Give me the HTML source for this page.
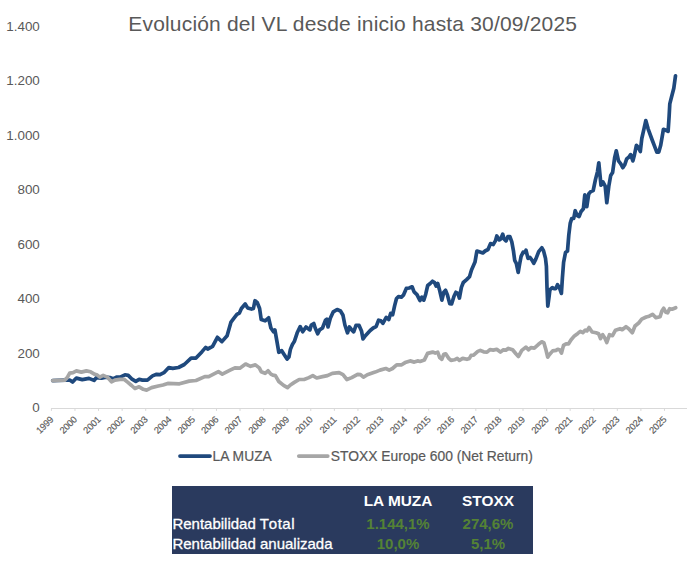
<!DOCTYPE html>
<html><head><meta charset="utf-8"><title>Evolución del VL</title>
<style>
html,body{margin:0;padding:0;background:#fff;}
body{width:694px;height:565px;position:relative;overflow:hidden;font-family:"Liberation Sans",sans-serif;}
svg{position:absolute;left:0;top:0;}
svg text{font-family:"Liberation Sans",sans-serif;fill:#595959;}
.title{position:absolute;left:0;top:11.3px;width:705.4px;text-align:center;font-size:21px;letter-spacing:0.18px;line-height:25px;color:#595959;white-space:nowrap;}
.tbl{position:absolute;left:172px;top:486px;width:361px;height:67.8px;background:#2a3a5e;color:#fff;font-size:15px;}
.tbl div{position:absolute;white-space:nowrap;line-height:20px;}
.c{text-align:center;font-weight:bold;width:100px;}
.g{color:#548235;}
.h{font-size:15.4px;}
.r{-webkit-text-stroke:0.3px #fff;}
</style></head><body>
<div class="title">Evolución del VL desde inicio hasta 30/09/2025</div>
<svg width="694" height="565" viewBox="0 0 694 565">
<g stroke="#d9d9d9" stroke-width="1" fill="none"><line x1="51" y1="408.5" x2="687" y2="408.5"/><line x1="51.40" y1="408.5" x2="51.40" y2="410.9"/><line x1="74.98" y1="408.5" x2="74.98" y2="410.9"/><line x1="98.56" y1="408.5" x2="98.56" y2="410.9"/><line x1="122.14" y1="408.5" x2="122.14" y2="410.9"/><line x1="145.72" y1="408.5" x2="145.72" y2="410.9"/><line x1="169.30" y1="408.5" x2="169.30" y2="410.9"/><line x1="192.88" y1="408.5" x2="192.88" y2="410.9"/><line x1="216.46" y1="408.5" x2="216.46" y2="410.9"/><line x1="240.04" y1="408.5" x2="240.04" y2="410.9"/><line x1="263.62" y1="408.5" x2="263.62" y2="410.9"/><line x1="287.20" y1="408.5" x2="287.20" y2="410.9"/><line x1="310.78" y1="408.5" x2="310.78" y2="410.9"/><line x1="334.36" y1="408.5" x2="334.36" y2="410.9"/><line x1="357.94" y1="408.5" x2="357.94" y2="410.9"/><line x1="381.52" y1="408.5" x2="381.52" y2="410.9"/><line x1="405.10" y1="408.5" x2="405.10" y2="410.9"/><line x1="428.68" y1="408.5" x2="428.68" y2="410.9"/><line x1="452.26" y1="408.5" x2="452.26" y2="410.9"/><line x1="475.84" y1="408.5" x2="475.84" y2="410.9"/><line x1="499.42" y1="408.5" x2="499.42" y2="410.9"/><line x1="523.00" y1="408.5" x2="523.00" y2="410.9"/><line x1="546.58" y1="408.5" x2="546.58" y2="410.9"/><line x1="570.16" y1="408.5" x2="570.16" y2="410.9"/><line x1="593.74" y1="408.5" x2="593.74" y2="410.9"/><line x1="617.32" y1="408.5" x2="617.32" y2="410.9"/><line x1="640.90" y1="408.5" x2="640.90" y2="410.9"/><line x1="664.48" y1="408.5" x2="664.48" y2="410.9"/></g>
<g font-size="13.4"><text x="39.8" y="412.30" text-anchor="end">0</text><text x="39.8" y="357.83" text-anchor="end">200</text><text x="39.8" y="303.36" text-anchor="end">400</text><text x="39.8" y="248.89" text-anchor="end">600</text><text x="39.8" y="194.42" text-anchor="end">800</text><text x="39.8" y="139.95" text-anchor="end">1.000</text><text x="39.8" y="85.48" text-anchor="end">1.200</text><text x="39.8" y="31.01" text-anchor="end">1.400</text></g>
<g font-size="9.4" letter-spacing="-0.25" stroke="#595959" stroke-width="0.15"><text transform="translate(54.00,420.2) rotate(-45)" text-anchor="end" dominant-baseline="auto">1999</text><text transform="translate(77.58,420.2) rotate(-45)" text-anchor="end" dominant-baseline="auto">2000</text><text transform="translate(101.16,420.2) rotate(-45)" text-anchor="end" dominant-baseline="auto">2001</text><text transform="translate(124.74,420.2) rotate(-45)" text-anchor="end" dominant-baseline="auto">2002</text><text transform="translate(148.32,420.2) rotate(-45)" text-anchor="end" dominant-baseline="auto">2003</text><text transform="translate(171.90,420.2) rotate(-45)" text-anchor="end" dominant-baseline="auto">2004</text><text transform="translate(195.48,420.2) rotate(-45)" text-anchor="end" dominant-baseline="auto">2005</text><text transform="translate(219.06,420.2) rotate(-45)" text-anchor="end" dominant-baseline="auto">2006</text><text transform="translate(242.64,420.2) rotate(-45)" text-anchor="end" dominant-baseline="auto">2007</text><text transform="translate(266.22,420.2) rotate(-45)" text-anchor="end" dominant-baseline="auto">2008</text><text transform="translate(289.80,420.2) rotate(-45)" text-anchor="end" dominant-baseline="auto">2009</text><text transform="translate(313.38,420.2) rotate(-45)" text-anchor="end" dominant-baseline="auto">2010</text><text transform="translate(336.96,420.2) rotate(-45)" text-anchor="end" dominant-baseline="auto">2011</text><text transform="translate(360.54,420.2) rotate(-45)" text-anchor="end" dominant-baseline="auto">2012</text><text transform="translate(384.12,420.2) rotate(-45)" text-anchor="end" dominant-baseline="auto">2013</text><text transform="translate(407.70,420.2) rotate(-45)" text-anchor="end" dominant-baseline="auto">2014</text><text transform="translate(431.28,420.2) rotate(-45)" text-anchor="end" dominant-baseline="auto">2015</text><text transform="translate(454.86,420.2) rotate(-45)" text-anchor="end" dominant-baseline="auto">2016</text><text transform="translate(478.44,420.2) rotate(-45)" text-anchor="end" dominant-baseline="auto">2017</text><text transform="translate(502.02,420.2) rotate(-45)" text-anchor="end" dominant-baseline="auto">2018</text><text transform="translate(525.60,420.2) rotate(-45)" text-anchor="end" dominant-baseline="auto">2019</text><text transform="translate(549.18,420.2) rotate(-45)" text-anchor="end" dominant-baseline="auto">2020</text><text transform="translate(572.76,420.2) rotate(-45)" text-anchor="end" dominant-baseline="auto">2021</text><text transform="translate(596.34,420.2) rotate(-45)" text-anchor="end" dominant-baseline="auto">2022</text><text transform="translate(619.92,420.2) rotate(-45)" text-anchor="end" dominant-baseline="auto">2023</text><text transform="translate(643.50,420.2) rotate(-45)" text-anchor="end" dominant-baseline="auto">2024</text><text transform="translate(667.08,420.2) rotate(-45)" text-anchor="end" dominant-baseline="auto">2025</text></g>
<polyline points="52.7,380.6 58.0,380.4 66.4,380.1 69.7,380.1 72.6,382.1 76.4,378.1 82.3,379.6 89.0,378.4 94.0,380.4 96.5,377.6 101.5,378.1 105.7,377.1 109.8,377.6 113.2,378.8 116.5,377.1 120.7,376.8 124.9,374.8 128.2,375.4 131.6,378.8 135.8,381.3 139.1,379.3 142.4,380.1 147.4,380.1 152.5,375.9 156.6,374.3 160.0,374.7 163.9,372.7 168.8,367.5 172.7,368.4 178.5,367.5 184.3,364.5 191.1,358.1 196.0,358.1 201.8,351.9 205.7,347.4 207.7,349.0 212.6,346.4 217.4,337.3 221.9,341.6 227.1,335.7 231.0,322.1 234.0,318.2 236.9,314.3 239.4,313.0 241.4,308.5 245.2,304.0 247.6,307.9 251.5,309.1 253.4,308.5 255.0,300.7 257.3,302.7 259.6,308.5 261.2,319.6 265.1,320.8 268.6,317.8 270.9,328.0 273.5,331.8 274.9,329.9 276.8,340.6 278.8,352.3 281.7,350.7 284.6,355.2 287.1,359.1 288.9,357.1 290.4,349.4 292.4,344.5 294.3,341.6 297.2,332.8 300.2,326.6 302.7,331.8 306.0,327.0 309.9,329.9 311.3,325.0 313.8,323.5 315.2,328.0 317.7,333.8 319.6,329.9 322.5,328.0 325.5,320.2 326.8,319.2 328.0,327.0 330.3,318.2 333.3,311.8 337.1,309.5 340.5,311.0 343.0,315.3 344.9,325.0 347.5,332.8 349.4,327.0 351.7,329.9 353.7,331.8 356.0,325.4 359.1,325.4 361.5,330.9 363.0,339.0 365.4,335.7 370.2,330.5 373.2,328.0 376.1,326.6 378.6,320.2 380.9,320.8 382.9,323.3 386.2,317.4 388.8,319.5 390.7,313.3 392.7,314.7 394.6,305.9 396.5,298.5 398.5,296.6 401.4,297.1 403.4,295.2 406.3,288.4 409.2,288.0 412.1,286.8 414.1,291.9 417.0,294.6 419.9,300.5 421.8,297.1 423.8,300.1 425.7,294.2 427.7,285.5 430.2,283.5 432.5,281.2 434.5,282.5 436.1,286.1 437.8,283.5 439.4,289.4 441.9,300.1 443.8,292.3 445.6,290.3 447.5,295.2 449.7,303.6 451.6,304.0 454.0,296.2 455.9,292.3 457.9,293.3 459.4,298.1 461.4,287.4 463.3,282.5 466.6,279.6 469.5,276.7 471.5,269.9 475.0,262.1 476.9,251.0 479.3,251.8 482.8,253.0 485.1,251.0 488.0,249.5 490.5,243.6 493.2,244.5 495.4,240.9 496.8,236.0 499.3,239.9 500.7,238.9 502.7,234.1 504.0,238.9 506.0,240.9 507.9,236.6 509.9,236.6 511.8,241.8 513.4,250.6 514.7,260.3 516.3,263.3 518.2,272.4 519.6,264.2 521.1,256.4 523.1,252.2 525.0,252.5 526.0,250.2 528.0,258.4 529.9,257.4 531.8,259.9 533.8,263.3 535.7,259.4 538.7,251.6 541.8,247.8 543.5,250.6 545.5,258.4 546.4,266.2 547.0,287.6 547.8,306.1 549.0,297.3 549.9,289.9 552.3,287.6 554.2,288.6 555.8,288.6 557.5,284.7 559.5,288.0 561.4,293.4 562.4,277.9 563.6,262.3 565.5,252.5 567.5,251.0 568.8,235.0 570.2,223.4 571.7,218.5 573.7,218.5 575.2,210.7 577.2,215.6 579.1,216.5 580.9,211.8 583.4,208.8 584.8,194.9 586.8,206.6 588.7,194.0 590.7,191.6 593.2,190.5 595.5,179.4 597.5,171.6 598.8,162.8 601.0,185.2 602.9,181.9 605.2,186.2 606.8,202.7 608.8,186.2 610.7,175.5 612.6,172.5 614.6,158.0 616.3,150.8 618.5,160.9 620.8,163.8 622.8,167.7 624.7,164.8 626.7,158.9 629.0,157.0 630.6,154.6 632.9,160.9 634.4,155.0 636.4,145.3 638.3,147.2 640.3,151.5 641.8,138.5 644.2,127.8 645.8,120.6 648.1,128.8 652.0,139.5 654.9,147.2 656.8,152.1 658.8,152.1 660.7,145.3 662.7,133.6 663.4,129.3 665.4,130.0 668.1,131.4 669.1,116.6 669.8,103.9 671.6,96.8 673.8,88.3 675.5,75.8" fill="none" stroke="#1f497d" stroke-width="3.7" stroke-linejoin="round" stroke-linecap="round"/>
<polyline points="52.7,380.6 58.0,380.3 64.7,380.1 67.2,377.6 69.7,373.1 73.1,372.6 76.4,370.9 81.4,372.1 86.4,370.9 90.6,371.8 94.8,374.3 97.3,375.1 99.8,377.1 103.2,375.4 107.3,377.1 111.5,381.8 114.9,380.1 119.9,379.3 124.0,379.3 128.2,382.6 131.6,385.5 134.9,388.5 139.1,386.8 143.3,389.3 146.6,390.1 151.6,387.6 158.3,386.0 163.0,385.0 167.8,383.4 179.5,383.8 189.2,381.1 196.0,380.5 204.8,376.6 208.7,376.6 218.4,371.7 222.3,374.1 230.1,370.2 234.9,367.9 239.8,368.2 245.6,364.0 250.5,366.3 255.4,364.9 259.3,367.9 261.2,371.7 265.1,373.3 268.0,370.8 270.9,374.1 272.9,375.2 275.4,375.6 278.8,381.5 283.6,385.4 287.5,387.7 290.4,385.0 294.3,382.4 299.2,379.5 304.1,379.5 308.9,377.6 312.8,375.6 316.7,378.0 322.5,376.6 327.4,375.6 332.3,373.3 339.1,372.7 343.0,374.7 346.9,379.5 351.7,377.6 357.6,374.3 360.5,374.7 363.4,377.2 367.3,374.7 375.1,372.1 380.0,370.1 385.8,368.5 389.2,370.1 392.5,368.5 396.7,364.8 401.7,364.8 405.1,362.6 410.1,360.9 414.3,362.1 417.6,360.9 420.1,361.5 424.3,360.1 427.6,353.4 432.6,352.1 435.2,353.1 437.7,352.1 439.7,357.6 441.8,359.3 443.8,354.3 445.7,353.8 448.5,358.1 451.0,360.4 454.4,359.8 457.2,358.4 459.4,360.4 462.7,358.4 466.9,359.3 469.4,358.4 471.1,355.4 473.6,355.1 477.8,351.4 480.3,350.4 483.6,351.8 487.0,352.1 490.0,349.6 493.3,350.1 496.7,349.3 500.4,352.1 503.4,349.8 505.9,350.1 508.4,348.4 512.6,349.8 515.9,353.8 518.4,356.5 521.8,350.4 525.9,347.1 528.4,349.8 530.9,347.6 534.3,348.1 538.5,344.3 541.8,341.8 543.8,342.6 546.0,350.1 547.7,357.1 549.3,354.8 552.7,350.9 556.0,350.4 557.7,349.3 559.9,350.1 561.5,353.1 563.5,345.4 566.1,343.8 568.6,343.8 571.1,339.8 574.4,335.9 577.8,333.4 580.3,331.4 582.8,332.6 585.3,330.1 586.9,330.9 589.1,327.5 592.1,332.0 596.0,332.7 598.7,333.8 600.5,338.7 602.7,334.7 604.7,337.7 606.8,342.5 609.5,334.7 612.5,335.7 615.5,330.2 620.0,328.7 622.2,329.7 626.0,326.7 628.7,328.7 632.3,332.7 635.0,326.0 638.7,323.0 641.7,319.2 646.2,317.0 649.2,316.2 652.6,314.3 655.9,317.7 660.1,316.7 661.9,311.0 663.7,308.3 665.7,312.2 667.6,312.8 669.7,308.7 672.1,309.2 675.7,307.7" fill="none" stroke="#a6a6a6" stroke-width="3.7" stroke-linejoin="round" stroke-linecap="round"/>
<line x1="180" y1="456.1" x2="210" y2="456.1" stroke="#1f497d" stroke-width="3.7" stroke-linecap="round"/>
<text x="212.6" y="460.8" font-size="13.85" stroke="#595959" stroke-width="0.2">LA MUZA</text>
<line x1="298.8" y1="456.1" x2="327.8" y2="456.1" stroke="#a6a6a6" stroke-width="3.7" stroke-linecap="round"/>
<text x="330.8" y="460.8" font-size="13.85" stroke="#595959" stroke-width="0.2">STOXX Europe 600 (Net Return)</text>
</svg>
<div class="tbl">
<div class="c h" style="left:176px;top:4.8px;">LA MUZA</div>
<div class="c h" style="left:266px;top:4.8px;">STOXX</div>
<div class="r" style="left:0.4px;top:28px;">Rentabilidad T<span style="letter-spacing:0.5px">otal</span></div>
<div class="c g" style="left:176px;top:28px;">1.144,1%</div>
<div class="c g" style="left:266px;top:28px;">274,6%</div>
<div class="r" style="left:0.4px;top:48.4px;">Rentabilidad anualizada</div>
<div class="c g" style="left:176px;top:48.4px;">10,0%</div>
<div class="c g" style="left:266px;top:48.4px;">5,1%</div>
</div>
</body></html>
